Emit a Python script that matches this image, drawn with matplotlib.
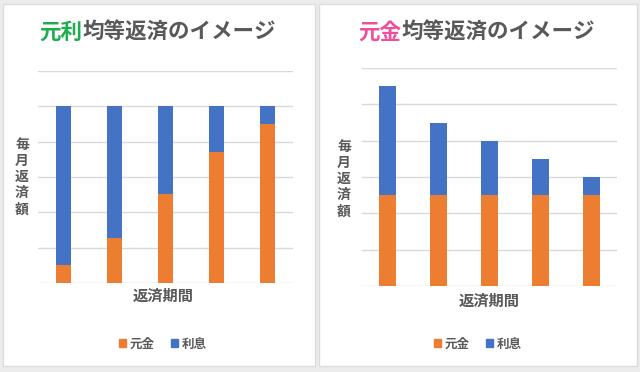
import matplotlib
matplotlib.use('Agg')
import matplotlib.pyplot as plt
from matplotlib.patches import Rectangle

plt.rcParams['font.family'] = ['Noto Sans CJK JP', 'DejaVu Sans']

# data
periods = [1, 2, 3, 4, 5]
# 元利均等返済 (equal total payment)
ganri_principal = [0.5, 1.28, 2.53, 3.72, 4.5]
ganri_interest = [4.5, 3.72, 2.47, 1.28, 0.5]
# 元金均等返済 (equal principal)
gankin_principal = [2.5, 2.5, 2.5, 2.5, 2.5]
gankin_interest = [3.0, 2.0, 1.5, 1.0, 0.5]

titles_head = ['元利', '元金']
title_tail = '均等返済のイメージ'
head_colors = ['#1fae4f', '#f04e9a']
ylabel = '毎月返済額'
xlabel = '返済期間'
series_names = ['元金', '利息']

orange = '#ED7D31'
blue = '#4472C4'
grid_c = '#d9d9d9'
text_c = '#595959'

fig = plt.figure(figsize=(6.4, 3.72), dpi=100, facecolor='#ececec')

# white panels
W, H = 640.0, 372.0
for x0, x1 in [(3, 315), (319, 637)]:
    fig.patches.append(Rectangle((x0 / W, 6 / H), (x1 - x0) / W, (368 - 6) / H,
                                 transform=fig.transFigure, facecolor='white',
                                 edgecolor='#dcdcdc', lw=1.0, zorder=-5))

panels = [
    dict(pos=[38 / W, 0.239, 255 / W, 0.570], prin=ganri_principal, intr=ganri_interest,
         width=0.30, tx=158, ylx=22, yly=177, xlx=163, xly=296, lgx=163, lgy=344),
    dict(pos=[362 / W, 0.231, 255 / W, 0.586], prin=gankin_principal, intr=gankin_interest,
         width=0.35, tx=477, ylx=344, yly=179, xlx=489, xly=301, lgx=478, lgy=344),
]

for i, p in enumerate(panels):
    ax = fig.add_axes(p['pos'])
    ax.set_facecolor('none')
    x = list(range(len(periods)))
    ax.bar(x, p['prin'], width=p['width'], color=orange, zorder=3)
    ax.bar(x, p['intr'], bottom=p['prin'], width=p['width'], color=blue, zorder=3)
    ax.set_xlim(-0.5, 4.5)
    ax.set_ylim(0, 6)
    ax.set_yticks(range(7))
    ax.yaxis.grid(True, color=grid_c, lw=1.0)
    ax.set_axisbelow(True)
    ax.tick_params(left=False, bottom=False, labelleft=False, labelbottom=False)
    for s in ax.spines.values():
        s.set_visible(False)

    # title in two colours
    t1 = fig.text(p['tx'] / W - 0.185, 1 - 32 / H, titles_head[i], color=head_colors[i],
                  fontsize=15.5, fontweight='bold', ha='left', va='center')
    fig.canvas.draw()
    bb = t1.get_window_extent()
    fig.text(bb.x1 / W, 1 - 32 / H, title_tail, color=text_c,
             fontsize=15.5, fontweight='bold', ha='left', va='center')

    fig.text(p['ylx'] / W, 1 - p['yly'] / H, '\n'.join(ylabel), color=text_c,
             fontsize=10, fontweight='bold', ha='center', va='center', linespacing=1.2)
    fig.text(p['xlx'] / W, 1 - p['xly'] / H, xlabel, color=text_c,
             fontsize=11, fontweight='bold', ha='center', va='center')

    handles = [Rectangle((0, 0), 1, 1, color=c) for c in [orange, blue]]
    fig.legend(handles, series_names, loc='center', ncol=2, frameon=False,
               bbox_to_anchor=(p['lgx'] / W, 1 - p['lgy'] / H),
               handlelength=0.55, handleheight=0.55, handletextpad=0.3, columnspacing=1.3,
               prop={'size': 9, 'weight': 'bold'}, labelcolor=text_c)

fig.savefig('out.png', dpi=100, facecolor=fig.get_facecolor())
